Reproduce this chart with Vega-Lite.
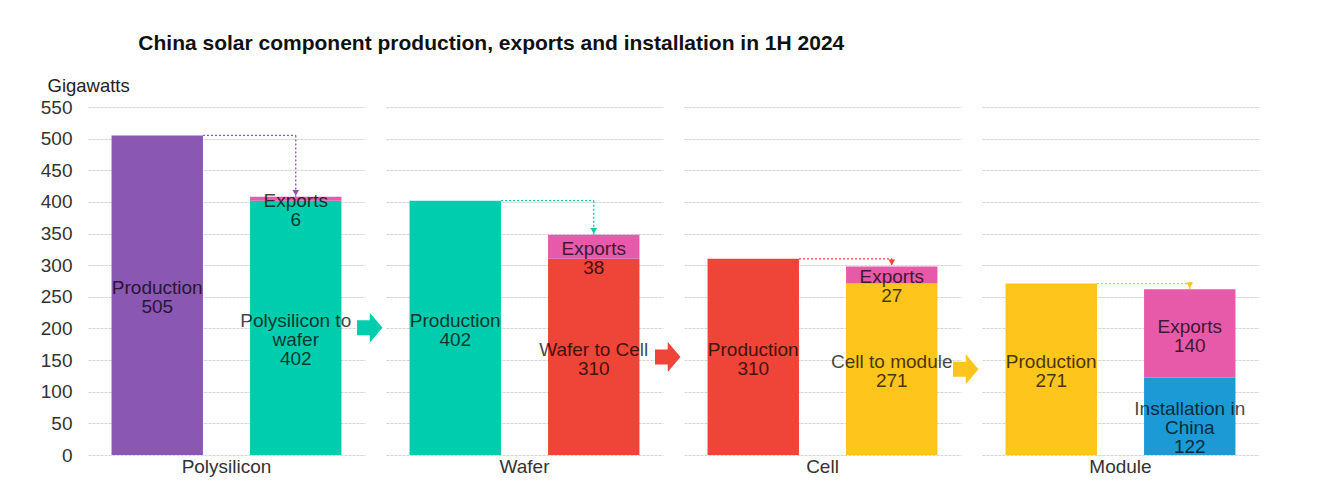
{
  "$schema": "https://vega.github.io/schema/vega-lite/v6.json",
  "autosize": {"type": "pad"},
  "padding": {"left": 40, "top": 33, "right": 5, "bottom": 5},
  "background": "white",
  "bounds": "flush",
  "title": {
    "text": "China solar component production, exports and installation in 1H 2024",
    "anchor": "start", "fontSize": 21, "fontWeight": "bold", "font": "Liberation Sans",
    "color": "#111111", "dx": 98, "offset": 22
  },
  "data": {"values": [
    {"stage": "Polysilicon", "bar": "Production", "seg": 1, "series": "Polysilicon", "label": "Production", "value": 505},
    {"stage": "Polysilicon", "bar": "Breakdown", "seg": 1, "series": "Wafer", "label": "Polysilicon to|wafer", "value": 402},
    {"stage": "Polysilicon", "bar": "Breakdown", "seg": 2, "series": "Exports", "label": "Exports", "value": 6},
    {"stage": "Wafer", "bar": "Production", "seg": 1, "series": "Wafer", "label": "Production", "value": 402},
    {"stage": "Wafer", "bar": "Breakdown", "seg": 1, "series": "Cell", "label": "Wafer to Cell", "value": 310},
    {"stage": "Wafer", "bar": "Breakdown", "seg": 2, "series": "Exports", "label": "Exports", "value": 38},
    {"stage": "Cell", "bar": "Production", "seg": 1, "series": "Cell", "label": "Production", "value": 310},
    {"stage": "Cell", "bar": "Breakdown", "seg": 1, "series": "Module", "label": "Cell to module", "value": 271},
    {"stage": "Cell", "bar": "Breakdown", "seg": 2, "series": "Exports", "label": "Exports", "value": 27},
    {"stage": "Module", "bar": "Production", "seg": 1, "series": "Module", "label": "Production", "value": 271},
    {"stage": "Module", "bar": "Breakdown", "seg": 1, "series": "Installation", "label": "Installation in|China", "value": 122},
    {"stage": "Module", "bar": "Breakdown", "seg": 2, "series": "Exports", "label": "Exports", "value": 140}
  ]},
  "transform": [
    {"stack": "value", "groupby": ["stage", "bar"], "sort": [{"field": "seg", "order": "ascending"}], "as": ["v0", "v1"]},
    {"calculate": "(datum.v0 + datum.v1) / 2", "as": "mid"},
    {"calculate": "datum.label + '|' + datum.value", "as": "txt"}
  ],
  "facet": {"column": {
    "field": "stage", "type": "nominal", "sort": ["Polysilicon", "Wafer", "Cell", "Module"], "title": null,
    "header": {"labelOrient": "bottom", "labelFont": "Liberation Sans", "labelFontSize": 19, "labelColor": "#333333", "labelPadding": 3, "labelBaseline": "top"}
  }},
  "spacing": 21,
  "spec": {
    "width": 277,
    "height": 348,
    "layer": [
      {
        "mark": {"type": "bar"},
        "encoding": {
          "x": {"field": "bar", "type": "nominal", "axis": null, "scale": {"domain": ["Production", "Breakdown"], "paddingInner": 0.34, "paddingOuter": 0.17}},
          "y": {"field": "v0", "type": "quantitative", "scale": {"domain": [0, 550]}, "title": "Gigawatts"},
          "y2": {"field": "v1"},
          "color": {"field": "series", "type": "nominal",
            "scale": {"domain": ["Polysilicon", "Wafer", "Cell", "Module", "Exports", "Installation"],
              "range": ["#8a57b3", "#00cdae", "#ef4438", "#fec51c", "#e65aa9", "#1c9ad6"]},
            "legend": null}
        }
      },
      {
        "transform": [
          {"calculate": "datum.bar == 'Production' ? datum.value : 0", "as": "p"},
          {"calculate": "datum.bar == 'Production' ? 0 : datum.value", "as": "b"},
          {"aggregate": [{"op": "sum", "field": "p", "as": "prod"}, {"op": "sum", "field": "b", "as": "total"}], "groupby": ["stage"]},
          {"calculate": "'Production'", "as": "xa"},
          {"calculate": "'Breakdown'", "as": "xb"}
        ],
        "layer": [
          {
            "mark": {"type": "rule", "strokeDash": [2, 2], "strokeWidth": 1.3},
            "encoding": {
              "x": {"field": "xa", "type": "nominal", "bandPosition": 1, "axis": null},
              "x2": {"field": "xb", "bandPosition": 0.5},
              "y": {"field": "prod", "type": "quantitative", "title": "Gigawatts"},
              "color": {"field": "stage", "type": "nominal", "legend": null}
            }
          },
          {
            "mark": {"type": "rule", "strokeDash": [2, 2], "strokeWidth": 1.3},
            "encoding": {
              "x": {"field": "xb", "type": "nominal", "axis": null},
              "y": {"field": "prod", "type": "quantitative", "title": "Gigawatts"},
              "y2": {"field": "total"},
              "color": {"field": "stage", "type": "nominal", "legend": null}
            }
          },
          {
            "mark": {"type": "point", "shape": "triangle-down", "filled": true, "size": 45, "yOffset": -4, "opacity": 1},
            "encoding": {
              "x": {"field": "xb", "type": "nominal", "axis": null},
              "y": {"field": "total", "type": "quantitative", "title": "Gigawatts"},
              "color": {"field": "stage", "type": "nominal", "legend": null}
            }
          }
        ]
      },
      {
        "transform": [{"filter": "datum.value >= 50"}],
        "mark": {"type": "text", "lineBreak": "|", "font": "Liberation Sans", "fontSize": 19, "lineHeight": 19, "baseline": "middle", "dy": -7, "color": "#000000", "opacity": 0.72},
        "encoding": {
          "x": {"field": "bar", "type": "nominal", "axis": null},
          "y": {"field": "mid", "type": "quantitative", "title": "Gigawatts"},
          "text": {"field": "txt"}
        }
      },
      {
        "transform": [{"filter": "datum.value < 50"}],
        "mark": {"type": "text", "lineBreak": "|", "font": "Liberation Sans", "fontSize": 19, "lineHeight": 19, "baseline": "middle", "dy": 2, "color": "#000000", "opacity": 0.72},
        "encoding": {
          "x": {"field": "bar", "type": "nominal", "axis": null},
          "y": {"field": "mid", "type": "quantitative", "title": "Gigawatts"},
          "text": {"field": "txt"}
        }
      },
      {
        "transform": [{"filter": "datum.bar == 'Breakdown' && datum.seg == 1 && datum.stage != 'Module'"}],
        "mark": {"type": "point", "shape": "M -0.85 -0.5 L 0 -0.5 L 0 -1 L 0.85 0 L 0 1 L 0 0.5 L -0.85 0.5 Z", "filled": true, "size": 900, "opacity": 1, "xOffset": 74},
        "encoding": {
          "x": {"field": "bar", "type": "nominal", "axis": null},
          "y": {"field": "mid", "type": "quantitative", "title": "Gigawatts"},
          "color": {"field": "series", "type": "nominal", "legend": null}
        }
      }
    ]
  },
  "config": {
    "font": "Liberation Sans",
    "view": {"stroke": null},
    "axisY": {
      "values": [0, 50, 100, 150, 200, 250, 300, 350, 400, 450, 500, 550],
      "grid": true, "gridColor": "#d4d4d4", "gridDash": [3, 1], "domain": false, "ticks": false,
      "labelFont": "Liberation Sans", "labelFontSize": 19, "labelColor": "#333333", "labelPadding": 16,
      "titleFont": "Liberation Sans", "titleAngle": 0, "titleAlign": "left", "titleX": -41, "titleY": -16,
      "titleFontSize": 18.5, "titleFontWeight": "normal", "titleColor": "#222222", "titleBaseline": "alphabetic"
    }
  }
}
